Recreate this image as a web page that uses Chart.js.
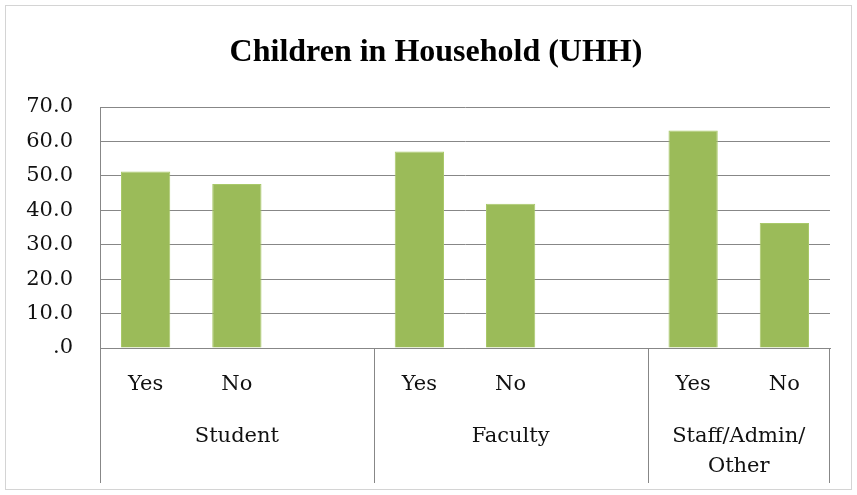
<!DOCTYPE html>
<html>
<head>
<meta charset="utf-8">
<script src="https://cdn.jsdelivr.net/npm/chart.js"></script>
<style>
  html, body { margin: 0; padding: 0; background: #fff; }
</style>
</head>
<body>
<canvas id="bar-chart" width="857" height="495"></canvas>
<script>
  const ctx = document.getElementById('bar-chart').getContext('2d');

  // one slot per bar, blank slots separate the groups
  const labels = ['Yes', 'No', '', 'Yes', 'No', '', 'Yes', 'No'];
  const values = [51.3, 47.6, null, 57.1, 41.9, null, 63.2, 36.3];
  const groupNames = [['Student'], ['Faculty'], ['Staff/Admin/', 'Other']];
  const groupSizes = [3, 3, 2];
  const titleText = 'Children in Household (UHH)';

  const GRID = '#878787';
  const TEXT = '#111';
  const SERIF = '"DejaVu Serif", serif';

  const frame = {
    id: 'frame',
    beforeDraw(chart) {
      const c = chart.ctx;
      c.save();
      c.fillStyle = '#fff';
      c.fillRect(0, 0, chart.width, chart.height);
      c.strokeStyle = '#d4d4d4';
      c.strokeRect(5.5, 5.5, chart.width - 11, chart.height - 11);
      // title, centred on the frame like the original
      c.fillStyle = '#000';
      c.font = 'bold 32px "Liberation Serif", serif';
      c.textAlign = 'center';
      c.textBaseline = 'middle';
      c.fillText(titleText, 436, 53);
      c.restore();
    },
  };

  const groupAxis = {
    id: 'groupAxis',
    afterDraw(chart) {
      const x = chart.scales.x;
      const area = chart.chartArea;
      const c = chart.ctx;
      const half = (x.getPixelForValue(1) - x.getPixelForValue(0)) / 2;
      const bottom = area.bottom + 135;
      c.save();
      c.strokeStyle = GRID;
      c.lineWidth = 1;
      c.fillStyle = TEXT;
      c.font = '21px ' + SERIF;
      c.textAlign = 'center';
      c.textBaseline = 'middle';
      let start = 0;
      groupSizes.forEach((n, g) => {
        const left = x.getPixelForValue(start) - half;
        const right = x.getPixelForValue(start + n - 1) + half;
        const lx = Math.round(left) + 0.5;
        c.beginPath();
        c.moveTo(lx, area.bottom);
        c.lineTo(lx, bottom);
        c.stroke();
        const cx = (left + right) / 2;
        groupNames[g].forEach((t, i) => c.fillText(t, cx, area.bottom + 89 + i * 30));
        start += n;
      });
      const rx = Math.round(area.right) - 0.5;
      c.beginPath();
      c.moveTo(rx, area.bottom);
      c.lineTo(rx, bottom);
      c.stroke();
      c.restore();
    },
  };

  const barChart = new Chart(ctx, {
    type: 'bar',
    data: {
      labels: labels,
      datasets: [
        {
          label: 'Children in Household',
          data: values,
          backgroundColor: '#9bbb59',
          borderColor: '#a9c96a',
          borderWidth: 1,
          categoryPercentage: 1,
          barPercentage: 0.54,
        },
      ],
    },
    options: {
      responsive: false,
      animation: false,
      layout: { padding: { left: 0, right: 27, top: 107, bottom: 12 } },
      plugins: {
        legend: { display: false },
        tooltip: { enabled: false },
        title: { display: false },
      },
      scales: {
        x: {
          grid: { display: false, drawTicks: false },
          border: { display: true, color: GRID },
          ticks: {
            color: TEXT,
            font: { family: SERIF, size: 21 },
            padding: 24,
            maxRotation: 0,
            autoSkip: false,
          },
          afterFit(scale) { scale.height = 135; },
        },
        y: {
          min: 0,
          max: 70,
          grid: { color: GRID, drawTicks: false },
          border: { display: true, color: GRID },
          ticks: {
            stepSize: 10,
            color: TEXT,
            padding: 27,
            font: { family: SERIF, size: 21 },
            callback: v => (v === 0 ? '.0' : v.toFixed(1)),
          },
          afterFit(scale) { scale.width = 100; },
        },
      },
    },
    plugins: [frame, groupAxis],
  });
</script>
</body>
</html>
